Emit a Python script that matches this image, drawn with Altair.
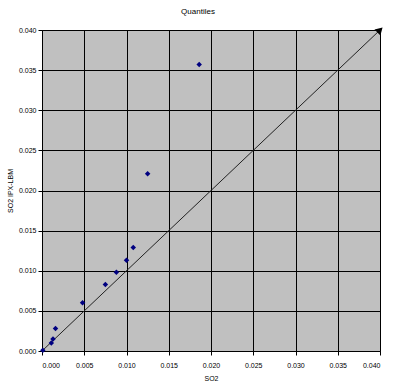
import altair as alt
import pandas as pd

so2 = [0.0001, 0.0011, 0.0013, 0.0016, 0.0048, 0.0075, 0.0088, 0.0100, 0.0108, 0.0125, 0.0186]
so2_ipx = [0.0001, 0.0010, 0.0015, 0.0028, 0.0060, 0.0083, 0.0098, 0.0113, 0.0129, 0.0221, 0.0357]
line_x = [0.0, 0.040]
line_y = [0.0, 0.040]

pts = pd.DataFrame({"x": so2, "y": so2_ipx})
ln = pd.DataFrame({"x": line_x, "y": line_y})
tip = pd.DataFrame({"x": [line_x[-1]], "y": [line_y[-1]]})

fnt = "Liberation Sans"
xs = alt.Scale(domain=[0, 0.04], nice=False, zero=True)
ys = alt.Scale(domain=[0, 0.04], nice=False, zero=True)

xax = alt.Axis(title="SO2", format=".3f", values=[i * 0.005 for i in range(9)],
               grid=True, gridColor="black", gridWidth=1, gridOpacity=1,
               domainColor="black", tickColor="black", tickSize=4,
               labelFont=fnt, labelFontSize=7, labelColor="black", labelPadding=6,
               titleFont=fnt, titleFontSize=7, titleFontWeight="normal", titleColor="black",
               titlePadding=6)
yax = alt.Axis(title="SO2 IPX-LBM", format=".3f", values=[i * 0.005 for i in range(9)],
               grid=True, gridColor="black", gridWidth=1, gridOpacity=1,
               domainColor="black", tickColor="black", tickSize=4,
               labelFont=fnt, labelFontSize=7, labelColor="black", labelPadding=2,
               titleFont=fnt, titleFontSize=7, titleFontWeight="normal", titleColor="black",
               titlePadding=5)

base_line = alt.Chart(ln).mark_line(color="#222222", strokeWidth=1).encode(
    x=alt.X("x:Q", scale=xs, axis=xax),
    y=alt.Y("y:Q", scale=ys, axis=yax),
)
arrow = alt.Chart(tip).mark_point(shape="triangle-up", angle=45, filled=True,
                                  color="black", size=70, opacity=1, clip=False).encode(
    x=alt.X("x:Q", scale=xs),
    y=alt.Y("y:Q", scale=ys),
)
points = alt.Chart(pts).mark_point(shape="diamond", filled=True, color="#000080",
                                   size=30, opacity=1).encode(
    x=alt.X("x:Q", scale=xs),
    y=alt.Y("y:Q", scale=ys),
)

chart = alt.layer(base_line, points, arrow).properties(
    width=338, height=321,
    title=alt.TitleParams("Quantiles", font=fnt, fontSize=8, fontWeight="normal",
                          color="black", anchor="middle", dx=-13, offset=10),
    autosize=alt.AutoSizeParams(type="none"),
    padding={"left": 42, "top": 30, "right": 20, "bottom": 38},
    background="white",
).configure_view(fill="#C0C0C0", stroke="#808080", strokeWidth=1)

chart.save("out.html", embed_options={"renderer": "svg", "actions": False})
